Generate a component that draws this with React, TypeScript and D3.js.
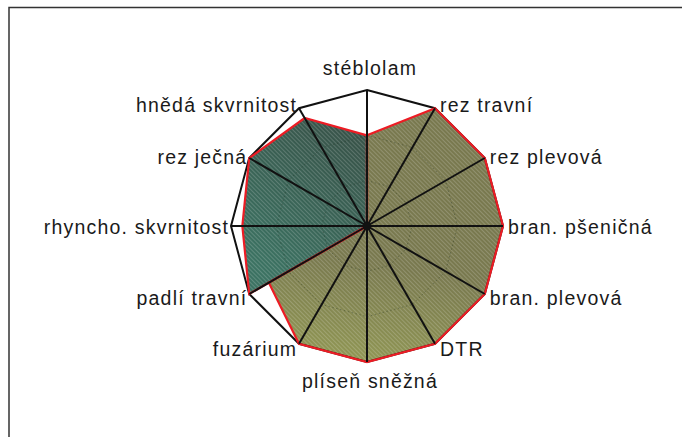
import { useEffect, useRef } from 'react';
import * as d3 from 'd3';

// axes, clockwise from the top
const categories = [
  'stéblolam',
  'rez travní',
  'rez plevová',
  'bran. pšeničná',
  'bran. plevová',
  'DTR',
  'plíseň sněžná',
  'fuzárium',
  'padlí travní',
  'rhyncho. skvrnitost',
  'rez ječná',
  'hnědá skvrnitost',
];

// two filled series (scale 0-12)
const seriesTeal = [8, 0, 0, 0, 0, 0, 0, 0, 12, 11, 12, 11];
const seriesOlive = [8, 12, 12, 12, 12, 12, 12, 12, 10, 0, 0, 0];

const gridTicks = [4, 8, 12];
const maxValue = 12;

const RadarChart = ({ width = 682, height = 437 }) => {
  const svgRef = useRef(null);

  useEffect(() => {
    const svg = d3.select(svgRef.current);
    svg.selectAll('*').remove();

    const cx = 367;
    const cy = 226;
    const r = d3.scaleLinear().domain([0, maxValue]).range([0, 136]);
    const angle = (i) => (i / categories.length) * Math.PI * 2;
    const pt = (i, v) => [cx + r(v) * Math.sin(angle(i)), cy - r(v) * Math.cos(angle(i))];

    const radial = d3.lineRadial()
      .angle((d, i) => angle(i))
      .radius(d => r(d))
      .curve(d3.curveLinearClosed);

    svg.attr('width', width).attr('height', height);

    const defs = svg.append('defs');
    const gOlive = defs.append('linearGradient')
      .attr('id', 'gOlive').attr('gradientUnits', 'userSpaceOnUse')
      .attr('x1', cx + 30).attr('y1', cy - 125).attr('x2', cx - 10).attr('y2', cy + 120);
    gOlive.append('stop').attr('offset', 0).attr('stop-color', '#79794f');
    gOlive.append('stop').attr('offset', 0.45).attr('stop-color', '#939a55');
    gOlive.append('stop').attr('offset', 0.7).attr('stop-color', '#afba53');
    gOlive.append('stop').attr('offset', 1).attr('stop-color', '#bec94f');

    const gTeal = defs.append('linearGradient')
      .attr('id', 'gTeal').attr('gradientUnits', 'userSpaceOnUse')
      .attr('x1', cx).attr('y1', cy - 100).attr('x2', cx - 110).attr('y2', cy + 60);
    gTeal.append('stop').attr('offset', 0).attr('stop-color', '#384d44');
    gTeal.append('stop').attr('offset', 1).attr('stop-color', '#3c7262');

    const hatch = defs.append('pattern')
      .attr('id', 'hatch').attr('patternUnits', 'userSpaceOnUse')
      .attr('width', 3).attr('height', 3)
      .attr('patternTransform', 'rotate(-45)');
    hatch.append('rect').attr('width', 1).attr('height', 3).attr('fill', '#fff').attr('opacity', 0.18);

    // frame
    svg.append('path')
      .attr('d', 'M9,437 L9,7.5 L682,7.5')
      .attr('fill', 'none').attr('stroke', '#333').attr('stroke-width', 1.5);

    const chart = svg.append('g').attr('transform', `translate(${cx},${cy})`);

    [seriesOlive, seriesTeal].forEach((s, k) => {
      chart.append('path')
        .attr('d', radial(s))
        .attr('fill', k === 0 ? 'url(#gOlive)' : 'url(#gTeal)');
      chart.append('path')
        .attr('d', radial(s))
        .attr('fill', 'url(#hatch)');
    });

    // inner dotted rings
    gridTicks.slice(0, -1).forEach(t => {
      chart.append('path')
        .attr('d', radial(categories.map(() => t)))
        .attr('fill', 'none')
        .attr('stroke', '#1a2a1a')
        .attr('stroke-opacity', 0.35)
        .attr('stroke-width', 1)
        .attr('stroke-dasharray', '1.5,2.5');
    });

    // outer polygon
    chart.append('path')
      .attr('d', radial(categories.map(() => maxValue)))
      .attr('fill', 'none').attr('stroke', '#111').attr('stroke-width', 2);

    // series outlines
    [seriesOlive, seriesTeal].forEach(s => {
      chart.append('path')
        .attr('d', radial(s))
        .attr('fill', 'none')
        .attr('stroke', '#ec1c24')
        .attr('stroke-width', 2.2)
        .attr('stroke-linejoin', 'miter');
    });

    // axis spokes
    categories.forEach((c, i) => {
      const [x, y] = pt(i, maxValue);
      svg.append('line')
        .attr('x1', cx).attr('y1', cy).attr('x2', x).attr('y2', y)
        .attr('stroke', '#111').attr('stroke-width', 2);
    });
    svg.append('circle').attr('cx', cx).attr('cy', cy).attr('r', 4).attr('fill', '#111');

    // labels
    const ls = 1.2;
    categories.forEach((c, i) => {
      const a = angle(i);
      const [x, y] = pt(i, maxValue);
      const s = Math.sin(a);
      const co = Math.cos(a);
      let tx = x;
      let ty = y;
      let anchor = 'middle';
      if (Math.abs(s) < 0.01) {
        ty = co > 0 ? y - 22 : y + 19;
        tx = x + 3;
      } else if (s > 0) {
        anchor = 'start';
        tx = x + 5;
        ty = y + 1 - 5 * co;
      } else {
        anchor = 'end';
        tx = x - 3 + ls;
        ty = y + 1 - 5 * co;
      }
      svg.append('text')
        .attr('x', tx).attr('y', ty)
        .attr('text-anchor', anchor)
        .attr('dominant-baseline', 'central')
        .style('font-family', '"Liberation Sans", Arial, sans-serif')
        .style('font-size', '19.5px')
        .style('letter-spacing', `${ls}px`)
        .style('fill', '#1a1a1a')
        .text(c);
    });
  }, [width, height]);

  return <svg ref={svgRef}></svg>;
};

export default function App() {
  return (
    <div style={{ position: 'absolute', left: 0, top: 0 }}>
      <RadarChart />
    </div>
  );
}
